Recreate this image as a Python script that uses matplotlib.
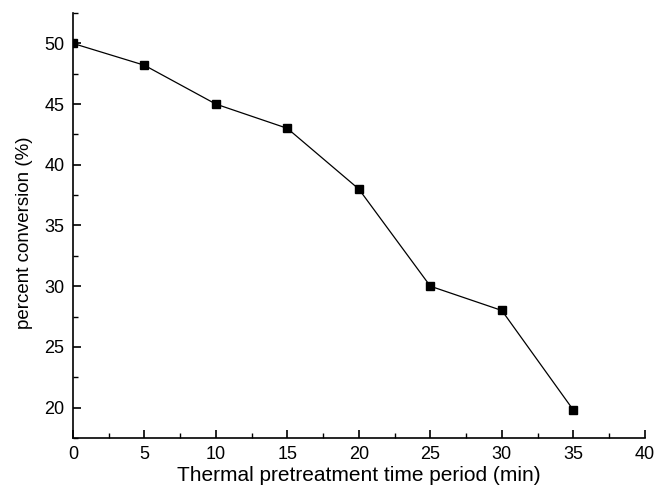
import matplotlib.pyplot as plt
from matplotlib.ticker import MultipleLocator

plt.rcParams['font.family'] = ['Liberation Sans', 'DejaVu Sans']

time_min = [0, 5, 10, 15, 20, 25, 30, 35]
conversion = [50, 48.2, 45, 43, 38, 30, 28, 19.8]

fig = plt.figure(figsize=(6.56, 4.91), dpi=100)
ax = fig.add_axes([0.111, 0.108, 0.872, 0.8655])

ax.plot(time_min, conversion, color="black", linewidth=0.9,
        marker="s", markersize=6, markerfacecolor="black")

ax.set_xlim(0, 40)
ax.set_ylim(17.5, 52.5)
ax.xaxis.set_major_locator(MultipleLocator(5))
ax.xaxis.set_minor_locator(MultipleLocator(2.5))
ax.yaxis.set_major_locator(MultipleLocator(5))
ax.yaxis.set_minor_locator(MultipleLocator(2.5))

for side in ["top", "right"]:
    ax.spines[side].set_visible(False)
for side in ["left", "bottom"]:
    ax.spines[side].set_linewidth(1.2)

ax.tick_params(which="major", direction="in", length=6, width=1.2, labelsize=13, pad=6)
ax.tick_params(which="minor", direction="in", length=3.5, width=1.0)

ax.set_xlabel("Thermal pretreatment time period (min)", fontsize=15, labelpad=2)
ax.set_ylabel("percent conversion (%)", fontsize=13.5)
ax.yaxis.set_label_coords(-0.070, 0.482)

fig.savefig("out.png", dpi=100)
